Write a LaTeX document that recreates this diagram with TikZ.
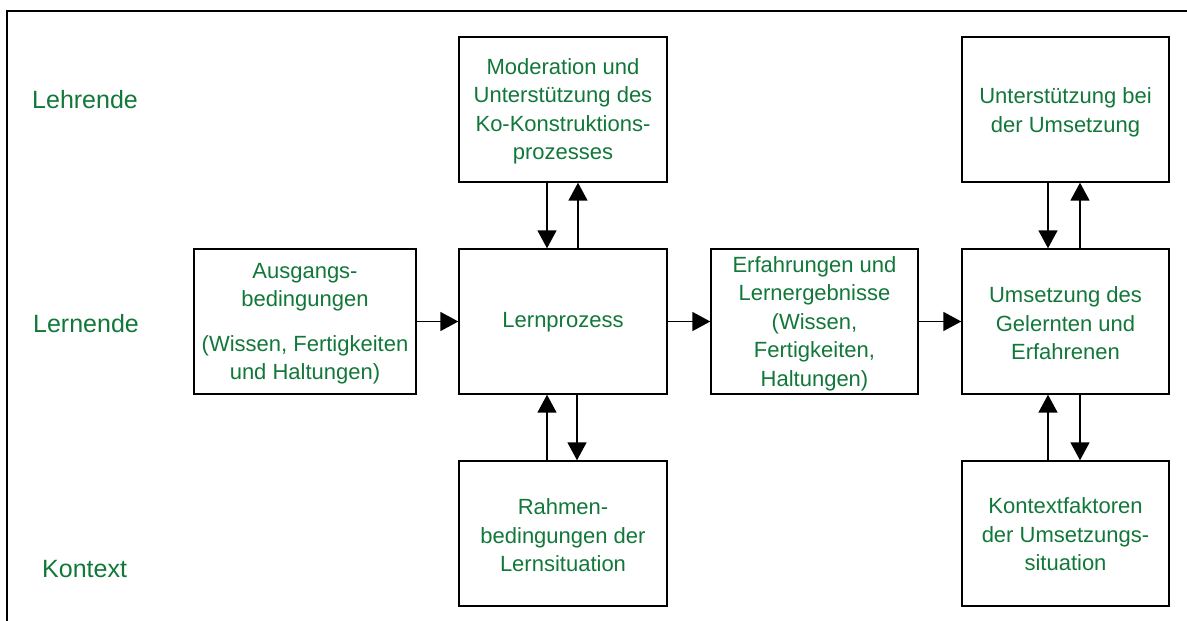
\documentclass[tikz,border=0pt]{standalone}
\usepackage{fontspec}
\setmainfont{Liberation Sans}
\usetikzlibrary{arrows.meta}
\definecolor{txtgreen}{RGB}{18,120,58}
\tikzset{
  box/.style={draw=black, line width=1.4pt, fill=white, minimum height=145pt, inner sep=0pt,
    align=center, text=txtgreen, font=\fontsize{22}{28.5}\selectfont},
  boxtext/.style={align=center, text=txtgreen, font=\fontsize{22}{28.5}\selectfont, inner sep=0pt},
  rowlabel/.style={text=txtgreen, font=\fontsize{25}{30}\selectfont, inner sep=0pt},
  arr/.style={line width=1.6pt, -{Triangle[length=18pt,width=19pt]}}
}
\begin{document}
\begin{tikzpicture}[x=1pt,y=-1pt]
\useasboundingbox (0,0) rectangle (1187,621);
\clip (0,0) rectangle (1187,621);
\fill[white] (0,0) rectangle (1187,621);
\draw[line width=1.6pt] (7,11) rectangle (1220,660);

% row labels
\node[rowlabel, anchor=base west] (lehr) at (32,108) {Lehrende};
\node[rowlabel, anchor=base west] (lern) at (33,332) {Lernende};
\node[rowlabel, anchor=base west] (kont) at (42,577) {Kontext};

% boxes
\node[box, minimum width=208pt] (mod) at (563,109.5) {};
\node[box, minimum width=207pt] (unt) at (1065.5,109.5) {};
\node[box, minimum width=222pt] (aus) at (305,321.5) {};
\node[box, minimum width=208pt] (lp) at (563,321.5) {};
\node[box, minimum width=207pt] (erf) at (814.5,321.5) {};
\node[box, minimum width=207pt] (ums) at (1065.5,321.5) {};
\node[box, minimum width=208pt] (rah) at (563,533.5) {};
\node[box, minimum width=207pt] (kon) at (1065.5,533.5) {};

% box texts (slightly below centre, as in the reference)
\node[boxtext] (tmod) at ([yshift=-2pt]mod.center) {Moderation und\\Unterstützung des\\Ko-Konstruktions-\\prozesses};
\node[boxtext] (tunt) at ([yshift=-3pt]unt.center) {Unterstützung bei\\der Umsetzung};
\node[boxtext] (taus) at ([yshift=-2pt]aus.center) {Ausgangs-\\bedingungen\\[16pt](Wissen, Fertigkeiten\\und Haltungen)};
\node[boxtext] (tlp) at ([yshift=-1pt]lp.center) {Lernprozess};
\node[boxtext] (terf) at ([yshift=-2pt]erf.center) {Erfahrungen und\\Lernergebnisse\\(Wissen,\\Fertigkeiten,\\Haltungen)};
\node[boxtext] (tums) at ([yshift=-2pt]ums.center) {Umsetzung des\\Gelernten und\\Erfahrenen};
\node[boxtext] (trah) at ([yshift=-2pt]rah.center) {Rahmen-\\bedingungen der\\Lernsituation};
\node[boxtext] (tkon) at ([yshift=-1pt]kon.center) {Kontextfaktoren\\der Umsetzungs-\\situation};

% horizontal arrows
\draw[arr] (aus.east) -- (lp.west);
\draw[arr] (lp.east) -- (erf.west);
\draw[arr] (erf.east) -- (ums.west);

% vertical arrows, middle column
\draw[arr] ([xshift=-16pt]mod.south) -- ([xshift=-16pt]lp.north);
\draw[arr] ([xshift=15pt]lp.north) -- ([xshift=15pt]mod.south);
\draw[arr] ([xshift=-16pt]rah.north) -- ([xshift=-16pt]lp.south);
\draw[arr] ([xshift=14pt]lp.south) -- ([xshift=14pt]rah.north);

% vertical arrows, right column
\draw[arr] ([xshift=-17.5pt]unt.south) -- ([xshift=-17.5pt]ums.north);
\draw[arr] ([xshift=14.5pt]ums.north) -- ([xshift=14.5pt]unt.south);
\draw[arr] ([xshift=-17.5pt]kon.north) -- ([xshift=-17.5pt]ums.south);
\draw[arr] ([xshift=14.5pt]ums.south) -- ([xshift=14.5pt]kon.north);
\end{tikzpicture}
\end{document}
